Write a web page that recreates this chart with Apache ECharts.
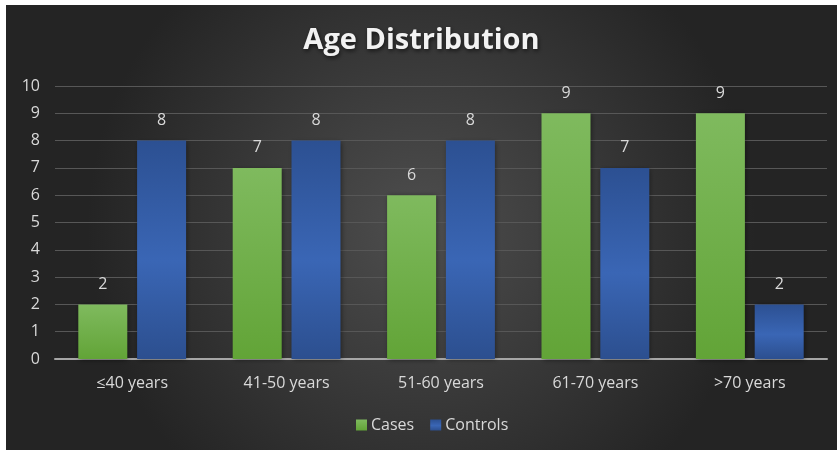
<!DOCTYPE html>
<html>
<head>
<meta charset="utf-8">
<script src="https://cdn.jsdelivr.net/npm/echarts@6/dist/echarts.min.js"></script>
<style>
  html, body { margin: 0; padding: 0; background: #ffffff; }
  #chart { position: absolute; left: 6px; top: 5px; width: 831px; height: 445px; }
</style>
</head>
<body>
<div id="chart"></div>
<script>
// Age groups and counts per group
const categories = ['≤40 years', '41-50 years', '51-60 years', '61-70 years', '>70 years'];
const casesValues = [2, 7, 6, 9, 9];
const controlsValues = [8, 8, 8, 7, 2];
const yTicks = [0, 1, 2, 3, 4, 5, 6, 7, 8, 9, 10];

const textColor = '#d9d9d9';
const font = 'Open Sans, Noto Sans, sans-serif';

const chart = echarts.init(document.getElementById('chart'));

const greenFill = {
  type: 'linear', x: 0, y: 0, x2: 0, y2: 1,
  colorStops: [
    { offset: 0, color: '#7fba5e' },
    { offset: 1, color: '#62a437' }
  ]
};
const blueFill = {
  type: 'linear', x: 0, y: 0, x2: 0, y2: 1,
  colorStops: [
    { offset: 0, color: '#2c5092' },
    { offset: 0.55, color: '#3a66b5' },
    { offset: 1, color: '#2c4f8f' }
  ]
};

const barLabel = {
  show: true,
  position: 'top',
  distance: 12,
  color: textColor,
  fontSize: 16,
  fontFamily: font
};

chart.setOption({
  backgroundColor: {
    type: 'radial', x: 0.5, y: 0.5, r: 0.75,
    colorStops: [
      { offset: 0, color: '#4e4e4e' },
      { offset: 1, color: '#242424' }
    ]
  },
  title: {
    text: 'Age Distribution',
    left: 'center',
    top: 16,
    textStyle: {
      color: '#f2f2f2',
      fontSize: 29,
      fontWeight: 'bold',
      fontFamily: font,
      textShadowColor: 'rgba(0,0,0,0.6)',
      textShadowBlur: 4,
      textShadowOffsetX: 1,
      textShadowOffsetY: 2
    }
  },
  legend: {
    data: ['Cases', 'Controls'],
    left: 345,
    top: 407,
    itemWidth: 11,
    itemHeight: 11,
    itemGap: 16,
    icon: 'rect',
    textStyle: { color: textColor, fontSize: 16, fontFamily: font, padding: [0, 0, 0, -1] }
  },
  grid: { left: 49, right: 10, top: 81, bottom: 91 },
  xAxis: {
    type: 'category',
    data: categories,
    axisLine: { lineStyle: { color: '#a6a6a6', width: 2 } },
    axisTick: { show: false },
    axisLabel: { color: textColor, fontSize: 16, fontFamily: font, margin: 16 }
  },
  yAxis: {
    type: 'value',
    min: yTicks[0],
    max: yTicks[yTicks.length - 1],
    interval: 1,
    axisLine: { show: false },
    axisTick: { show: false },
    splitLine: { lineStyle: { color: '#575757', width: 1 } },
    axisLabel: { color: textColor, fontSize: 16, fontFamily: font, margin: 15 }
  },
  series: [
    {
      name: 'Cases',
      type: 'bar',
      data: casesValues,
      barWidth: 49,
      barGap: '20%',
      itemStyle: {
        color: greenFill,
        shadowColor: 'rgba(0,0,0,0.45)',
        shadowBlur: 5,
        shadowOffsetX: 1,
        shadowOffsetY: 1
      },
      label: barLabel
    },
    {
      name: 'Controls',
      type: 'bar',
      data: controlsValues,
      barWidth: 49,
      itemStyle: {
        color: blueFill,
        shadowColor: 'rgba(0,0,0,0.45)',
        shadowBlur: 5,
        shadowOffsetX: 1,
        shadowOffsetY: 1
      },
      label: barLabel
    }
  ]
});
</script>
</body>
</html>
